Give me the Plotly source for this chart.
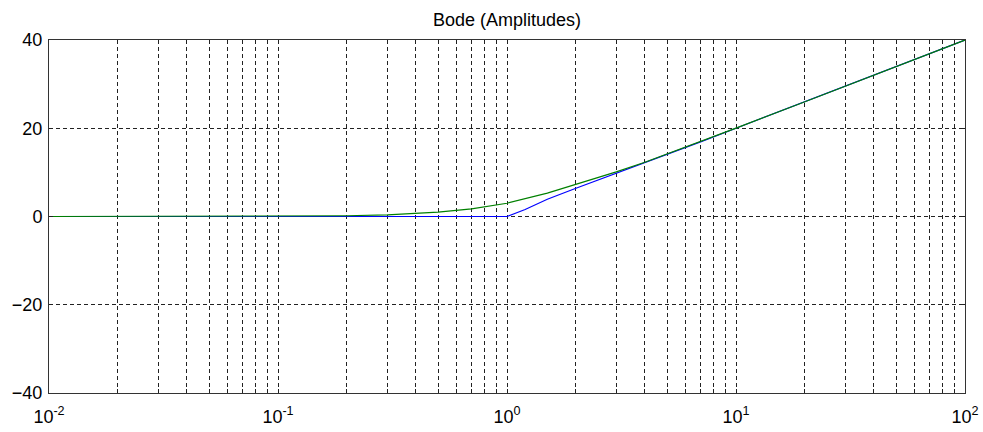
import plotly.graph_objects as go

# Frequencies (rad/s) and magnitudes (dB)
green_w = [0.01, 0.1, 0.2, 0.3, 0.5, 0.7, 1, 1.5, 2, 3, 4, 5, 7, 10, 20, 30, 50, 70, 100]
green_db = [0.0, 0.04, 0.17, 0.37, 0.97, 1.73, 3.01, 5.3, 7.3, 10.1, 12.3, 14.15, 17.0, 20.04, 26.0, 29.5, 33.98, 36.9, 40.0]
blue_w = [0.01, 1, 1.2, 1.5, 2, 3, 4, 5, 7, 10, 100]
blue_db = [0.0, 0.0, 1.6, 3.9, 6.4, 9.8, 12.1, 14.0, 16.9, 20.0, 40.0]

x_major = [0.01, 0.1, 1, 10, 100]
x_major_text = ["10<sup>-2</sup>", "10<sup>-1</sup>", "10<sup>0</sup>", "10<sup>1</sup>", "10<sup>2</sup>"]
y_ticks = [-40, -20, 0, 20, 40]
title = "Bode (Amplitudes)"

x_vals, x_text = [], []
for i, d in enumerate(x_major):
    x_vals.append(d)
    x_text.append(x_major_text[i])
    if i < len(x_major) - 1:
        for m in range(2, 10):
            x_vals.append(d * m)
            x_text.append("")

fig = go.Figure()
fig.add_trace(go.Scatter(x=blue_w, y=blue_db, mode="lines",
                         line=dict(color="#0000ff", width=1.2), showlegend=False))
fig.add_trace(go.Scatter(x=green_w, y=green_db, mode="lines",
                         line=dict(color="#008000", width=1.2), showlegend=False))

fnt = dict(family="Liberation Sans, Arial, sans-serif", size=18, color="#000000")
fig.update_layout(
    width=983, height=432,
    margin=dict(l=49, r=18, t=40, b=39, autoexpand=False),
    paper_bgcolor="white", plot_bgcolor="white",
    title=dict(text=title, x=0.5, xanchor="center", y=0.955, yanchor="middle",
               xref="paper", font=dict(family=fnt["family"], size=18, color="#000")),
    font=fnt,
)
fig.update_xaxes(
    type="log", range=[-2, 2], tickmode="array", tickvals=x_vals, ticktext=x_text,
    ticks="inside", ticklen=4, tickcolor="#222", showline=True, linecolor="#333",
    linewidth=1, mirror="ticks", showgrid=True, gridcolor="#222", gridwidth=1,
    griddash="4px,3px", zeroline=False, tickfont=fnt, automargin=False,
    ticklabelstandoff=7,
)
fig.update_yaxes(
    range=[-40, 40], tickmode="array", tickvals=y_ticks,
    ticks="inside", ticklen=4, tickcolor="#222", showline=True, linecolor="#333",
    linewidth=1, mirror="ticks", showgrid=True, gridcolor="#222", gridwidth=1,
    griddash="4px,3px", zeroline=False, tickfont=fnt, automargin=False,
    ticklabelstandoff=2,
)
fig.write_html("out.html")
